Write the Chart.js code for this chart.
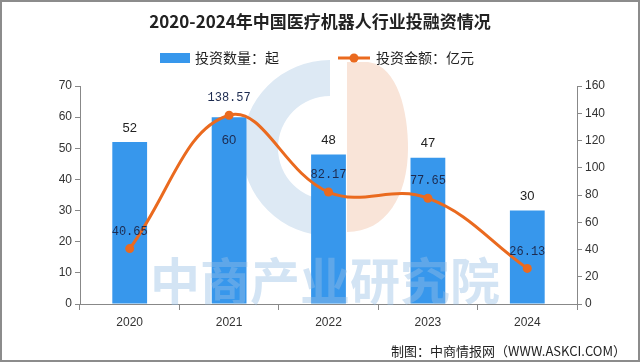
<!DOCTYPE html>
<html><head><meta charset="utf-8">
<script src="https://cdn.jsdelivr.net/npm/chart.js@4/dist/chart.umd.min.js"></script>
<style>html,body{margin:0;padding:0;background:#fff}#wrap{width:640px;height:362px;position:relative}</style>
</head><body><div id="wrap"><canvas id="c" width="640" height="362"></canvas></div>
<script>
const chartTitle = '2020-2024年中国医疗机器人行业投融资情况';
const years = ['2020', '2021', '2022', '2023', '2024'];
const dealCount = [52, 60, 48, 47, 30];
const dealAmount = [40.65, 138.57, 82.17, 77.65, 26.13];
const leftTicks = [0, 10, 20, 30, 40, 50, 60, 70];
const rightTicks = [0, 20, 40, 60, 80, 100, 120, 140, 160];
const seriesNames = ['投资数量：起', '投资金额：亿元'];
const footerText = '制图：中商情报网（WWW.ASKCI.COM）';
const watermarkText = '中商产业研究院';

const BLUE = '#3797ec';
const ORANGE = '#ea6a1f';
const CJK = '"Noto Sans CJK SC", "Noto Sans", sans-serif';

const decor = {
  id: 'decor',
  beforeDatasetsDraw(chart) {
    const ctx = chart.ctx;
    ctx.save();
    // faint logo behind the bars
    ctx.fillStyle = '#dde9f4';
    ctx.beginPath();
    ctx.arc(330, 148, 88, -Math.PI / 2, Math.PI / 2, true);
    ctx.arc(330, 148, 52, Math.PI / 2, -Math.PI / 2, false);
    ctx.closePath();
    ctx.fill();
    ctx.fillStyle = '#f9e4d8';
    ctx.beginPath();
    ctx.moveTo(347, 62);
    ctx.lineTo(368, 62);
    ctx.bezierCurveTo(398, 66, 408, 112, 408, 148);
    ctx.bezierCurveTo(408, 196, 386, 232, 347, 232);
    ctx.closePath();
    ctx.fill();
    ctx.restore();
  },
  afterDatasetsDraw(chart) {
    const ctx = chart.ctx;
    ctx.save();
    // watermark text
    ctx.font = 'bold 50px ' + CJK;
    ctx.fillStyle = 'rgba(150,190,228,0.42)';
    ctx.textAlign = 'center';
    ctx.textBaseline = 'middle';
    ctx.fillText(watermarkText, 325, 281);

    const barMeta = chart.getDatasetMeta(0);
    const lineMeta = chart.getDatasetMeta(1);
    // bar labels
    barMeta.data.forEach((el, i) => {
      const lp = lineMeta.data[i];
      const inside = Math.abs(lp.y - el.y) < 20;
      ctx.font = '13px "Liberation Sans", Arial, sans-serif';
      ctx.fillStyle = inside ? '#1d2b50' : '#222';
      ctx.fillText(String(dealCount[i]), el.x, inside ? el.y + 23 : el.y - 14);
    });
    // line labels
    lineMeta.data.forEach((el, i) => {
      ctx.font = '12px "Liberation Mono", "DejaVu Sans Mono", monospace';
      ctx.fillStyle = '#1d2b50';
      ctx.fillText(dealAmount[i].toFixed(2), el.x, el.y - 17);
    });
    ctx.restore();
  },
  afterDraw(chart) {
    const ctx = chart.ctx;
    ctx.save();
    // title
    ctx.font = 'bold 17px ' + CJK;
    ctx.fillStyle = '#222';
    ctx.textAlign = 'center';
    ctx.textBaseline = 'middle';
    ctx.fillText(chartTitle, 320, 22);
    // legend
    ctx.textAlign = 'left';
    ctx.font = '14px ' + CJK;
    ctx.fillStyle = BLUE;
    ctx.fillRect(160, 53, 30, 10);
    ctx.fillStyle = '#222';
    ctx.fillText(seriesNames[0], 195, 58);
    ctx.strokeStyle = ORANGE;
    ctx.lineWidth = 3;
    ctx.beginPath();
    ctx.moveTo(338, 58);
    ctx.lineTo(370, 58);
    ctx.stroke();
    ctx.fillStyle = ORANGE;
    ctx.beginPath();
    ctx.arc(354, 58, 4.5, 0, Math.PI * 2);
    ctx.fill();
    ctx.fillStyle = '#222';
    ctx.fillText(seriesNames[1], 376, 58);
    // footer
    ctx.textAlign = 'right';
    ctx.font = '13px ' + CJK;
    ctx.fillStyle = '#222';
    ctx.fillText(footerText, 626, 351);
    // frame
    ctx.strokeStyle = '#8c8c8c';
    ctx.lineWidth = 2;
    ctx.strokeRect(1, 1, 638, 360);
    ctx.restore();
  }
};

const tickFont = { family: '"Liberation Sans", Arial, sans-serif', size: 12 };

new Chart(document.getElementById('c'), {
  data: {
    labels: years,
    datasets: [
      {
        type: 'bar',
        label: seriesNames[0],
        data: dealCount,
        yAxisID: 'y',
        backgroundColor: BLUE,
        barPercentage: 0.35,
        categoryPercentage: 1,
        order: 1
      },
      {
        type: 'line',
        label: seriesNames[1],
        data: dealAmount,
        yAxisID: 'y1',
        borderColor: ORANGE,
        backgroundColor: ORANGE,
        borderWidth: 3,
        tension: 0.4,
        pointRadius: 4.5,
        pointBorderWidth: 0,
        pointBackgroundColor: ORANGE,
        order: 0
      }
    ]
  },
  options: {
    responsive: false,
    animation: false,
    devicePixelRatio: 1,
    layout: { padding: { top: 86, left: 0, right: 0, bottom: 0 } },
    plugins: { legend: { display: false }, tooltip: { enabled: false }, title: { display: false } },
    scales: {
      x: {
        type: 'category',
        offset: true,
        grid: { offset: true, drawOnChartArea: false, tickLength: 6, color: '#888' },
        border: { color: '#888' },
        ticks: { font: tickFont, color: '#333', padding: 5 },
        afterFit: s => { s.height = 58; }
      },
      y: {
        position: 'left',
        min: 0, max: 70,
        afterBuildTicks: s => { s.ticks = leftTicks.map(v => ({ value: v })); },
        grid: { drawOnChartArea: false, tickLength: 5, color: '#888' },
        border: { color: '#888' },
        ticks: { font: tickFont, color: '#333', padding: 3 },
        afterFit: s => { s.width = 80; }
      },
      y1: {
        position: 'right',
        min: 0, max: 160,
        afterBuildTicks: s => { s.ticks = rightTicks.map(v => ({ value: v })); },
        grid: { drawOnChartArea: false, tickLength: 5, color: '#888' },
        border: { color: '#888' },
        ticks: { font: tickFont, color: '#333', padding: 3 },
        afterFit: s => { s.width = 63; }
      }
    }
  },
  plugins: [decor]
});
</script>
</body></html>
